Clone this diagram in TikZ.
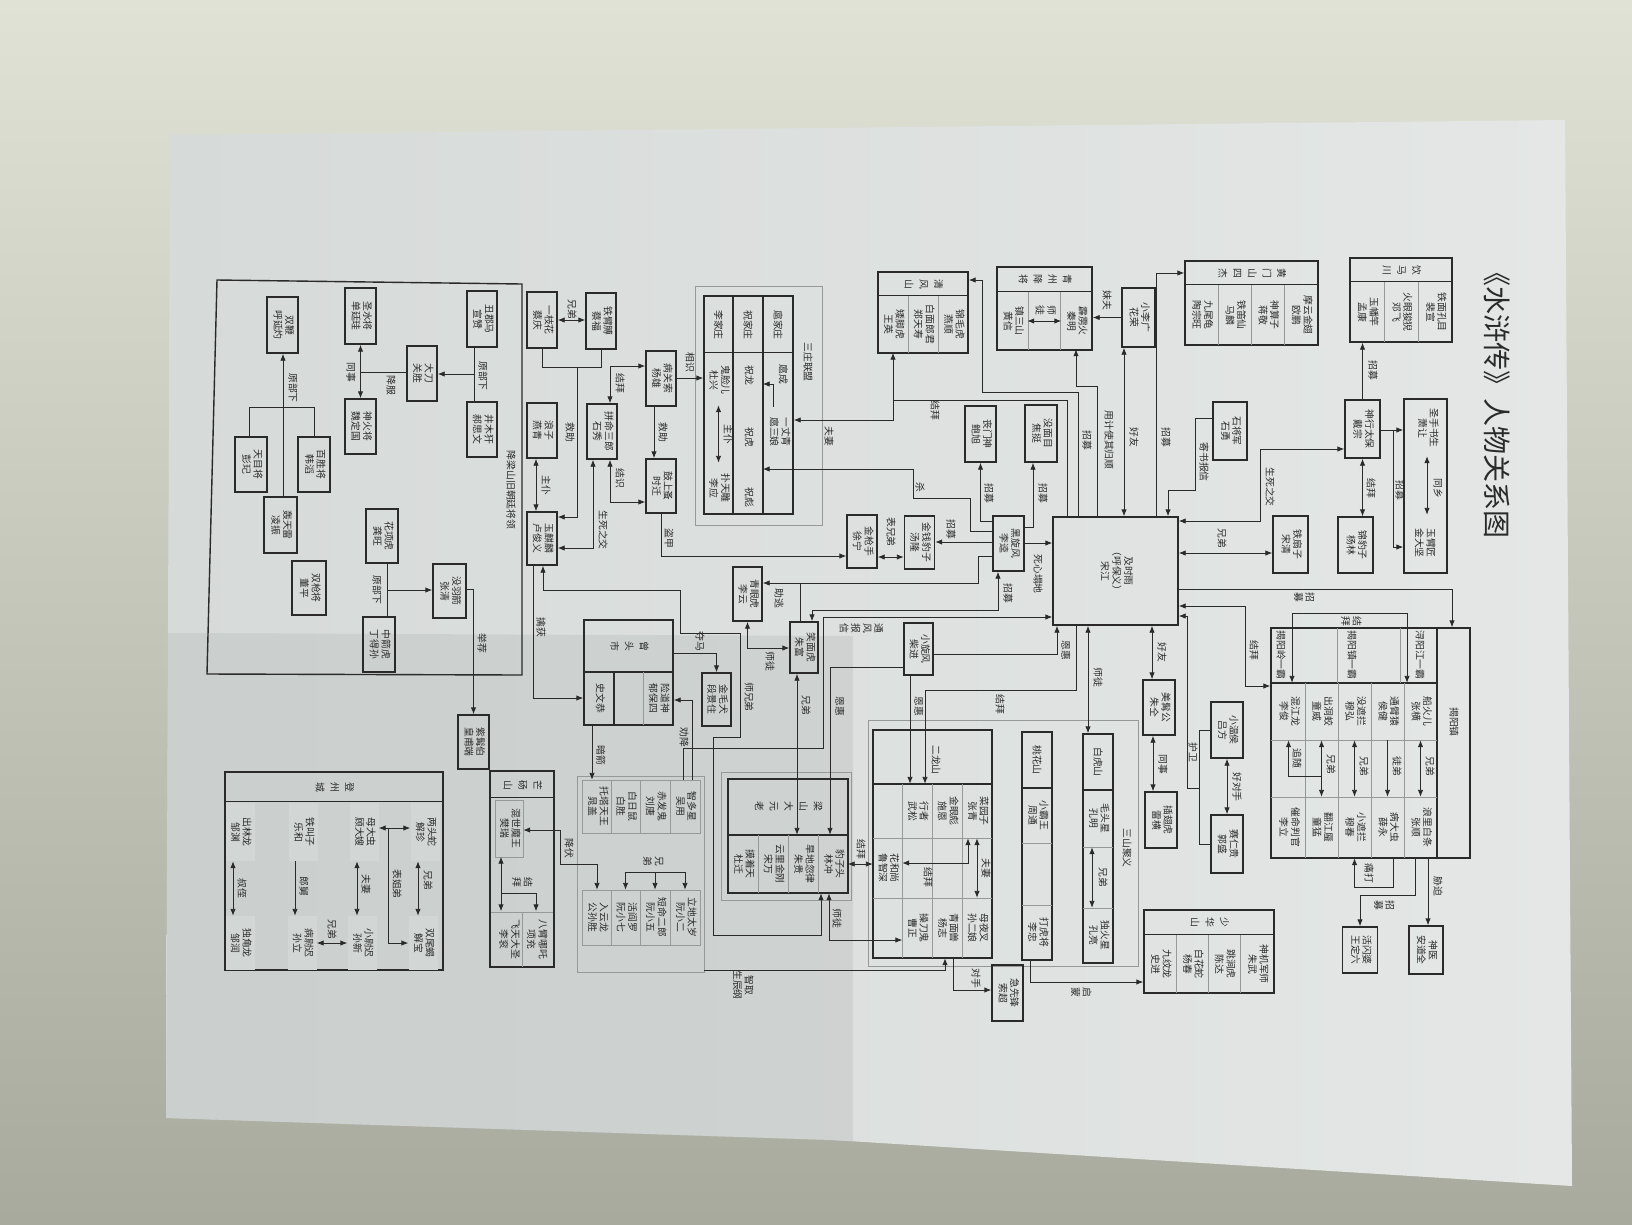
\documentclass[tikz,border=0pt]{standalone}
\usepackage{fontspec}
\setmainfont{Noto Sans CJK SC}
\usepackage{graphicx}
\usetikzlibrary{arrows.meta}
\definecolor{bgtop}{RGB}{224,226,214}
\definecolor{bgbot}{RGB}{168,170,158}
\definecolor{paperl}{RGB}{214,218,216}
\definecolor{paperr}{RGB}{228,231,230}
\definecolor{paperlow}{RGB}{190,195,193}
\definecolor{ink}{RGB}{42,42,42}
\definecolor{thin}{RGB}{150,153,151}
\definecolor{cellfill}{RGB}{210,214,212}
\newcommand{\vt}[1]{\rotatebox{-90}{\begin{tabular}{@{}c@{}}#1\end{tabular}}}
\newcommand{\hd}[1]{\rotatebox{-90}{\renewcommand{\arraystretch}{1.3}\begin{tabular}{@{}c@{}}#1\end{tabular}}}

\begin{document}
\begin{tikzpicture}[x=1pt,y=-1pt]
  \tikzstyle{every node}=[font=\fontsize{9.8}{11.3}\selectfont,text=ink,inner sep=0pt]
  \tikzstyle{box}=[draw=ink,line width=1.4pt,minimum width=31pt,minimum height=55pt]
  \tikzstyle{grp}=[draw=ink,line width=1.4pt]
  \tikzstyle{frm}=[draw=thin,line width=0.9pt]
  \tikzstyle{pcell}=[minimum width=29pt,minimum height=56pt]
  \tikzstyle{dcell}=[pcell,fill=cellfill]
  \tikzstyle{sepline}=[draw=thin,line width=0.5pt]
  \tikzstyle{lab}=[rotate=-90,inner sep=1pt]
  \tikzstyle{ln}=[draw=ink,line width=0.9pt]
  \tikzstyle{arr}=[ln,-{Latex[length=7pt,width=5.5pt]}]
  \tikzstyle{darr}=[ln,{Latex[length=7pt,width=5.5pt]}-{Latex[length=7pt,width=5.5pt]}]

  % photo and sheet
  \useasboundingbox (0,0) rectangle (1632,1224);
  \shade[top color=bgtop,bottom color=bgbot] (0,0) rectangle (1632,1224);
  \shade[left color=paperl,right color=paperr] (170,135) -- (1565,120) -- (1572,1186) -- (832,1140) -- (166,1118) -- cycle;
  \fill[paperlow,opacity=0.45] (168,633) -- (853,636) -- (853,1141) -- (166,1118) -- cycle;

  \node[rotate=-90,font=\fontsize{28}{30}\selectfont] (title) at (1497,398) {《水浒传》人物关系图};

  % Song Jiang
  \node[box,minimum width=125pt,minimum height=108pt] (songjiang) at (1115.5,571) {\vt{及时雨\\（呼保义）\\宋江}};

  % top right
  \node[grp,minimum width=133pt,minimum height=84pt] (hm) at (1251.5,303) {};
  \draw[grp] (hm.north west) ++(0,24) -- ++(133,0);
  \node (hmt) at (1251.5,273) {\hd{黄\\门\\山\\四\\杰}};
  \foreach \x in {1218,1251,1284} \draw[sepline] (\x,285) -- (\x,345);
  \node[pcell] (taozw) at (1201.5,315) {\vt{九尾龟\\陶宗旺}};
  \node[pcell] (malin) at (1234.5,315) {\vt{铁笛仙\\马麟}};
  \node[pcell] (jiangjing) at (1267.5,315) {\vt{神算子\\蒋敬}};
  \node[pcell] (oupeng) at (1301,315) {\vt{摩云金翅\\欧鹏}};

  \node[grp,minimum width=102pt,minimum height=84pt] (ym) at (1401,300) {};
  \draw[grp] (ym.north west) ++(0,24) -- ++(102,0);
  \node (ymt) at (1401,270) {\hd{饮\\马\\川}};
  \foreach \x in {1384,1418} \draw[sepline] (\x,282) -- (\x,342);
  \node[pcell] (mengkang) at (1367,312) {\vt{玉幡竿\\孟康}};
  \node[pcell] (dengfei) at (1401,312) {\vt{火眼狻猊\\邓飞}};
  \node[pcell] (peixuan) at (1435,312) {\vt{铁面孔目\\裴宣}};

  \node[box,minimum width=35pt,minimum height=58pt] (daizong) at (1362.5,429) {\vt{神行太保\\戴宗}};
  \node[box,minimum width=43pt,minimum height=174pt] (xrbox) at (1425.5,486) {};
  \node[pcell] (xiaorang) at (1427,428) {\vt{圣手书生\\萧让}};
  \node[pcell] (jindajian) at (1424,543) {\vt{玉臂匠\\金大坚}};
  \node[box,minimum width=35pt,minimum height=56pt] (yanglin) at (1355.5,545) {\vt{锦豹子\\杨林}};
  \node[box,minimum width=34pt,minimum height=58pt] (shiyong) at (1230,431) {\vt{石将军\\石勇}};
  \node[box,minimum width=35pt,minimum height=57pt] (songqing) at (1290.5,544.5) {\vt{铁扇子\\宋清}};

  \draw[arr] (1156,0 |- songjiang.north) -- (1156,273) -- (hm.west |- 0,273);
  \node[lab] (t1) at (1166,437) {招募};
  \draw[arr] (daizong.north) -- (daizong.north |- ym.south);
  \node[lab] (t2) at (1373,370) {招募};
  \draw[arr] (daizong.east |- 0,430) -- (xrbox.west |- 0,430);
  \draw[arr] (daizong.east |- 0,430) -| (1393,547) -- (xrbox.west |- 0,547);
  \node[lab] (t3) at (1400,490) {招募};
  \draw[darr] (xiaorang.south) -- (xiaorang.south |- jindajian.north);
  \node[lab] (t3b) at (1438,488) {同乡};
  \draw[darr] (daizong.south) -- (daizong.south |- yanglin.north);
  \node[lab] (t4) at (1371,488) {结拜};
  \draw[darr] (daizong.west |- 0,449) -| (1260,521) -- (songjiang.east |- 0,521);
  \node[lab] (t5) at (1270,487) {生死之交};
  \draw[darr] (songqing.west |- 0,553) -- (songjiang.east |- 0,553);
  \node[lab] (t6) at (1222,538) {兄弟};
  \draw[arr] (shiyong.west |- 0,418) -- (1195,418) -- (1195,490) -- (1168,490) -- (1168,0 |- songjiang.north);
  \node[lab] (t7) at (1204,462) {寄书报信};

  % Jieyang
  \node[grp,minimum width=199pt,minimum height=230pt] (jy) at (1370.5,743) {};
  \draw[grp] (1437,628) -- (1437,858);
  \draw[grp] (1271,683) -- (1437,683);
  \draw[sepline] (1271,740) -- (1437,740) (1271,797) -- (1437,797);
  \draw[sepline] (1337,628) -- (1337,683) (1400,628) -- (1400,683);
  \foreach \x in {1305,1338,1371,1404} \draw[sepline] (\x,683) -- (\x,858);
  \node[lab] (jyt) at (1454,722) {揭阳镇};
  \node[lab] (jyl) at (1281,655) {揭阳岭一霸};
  \node[lab] (jyz) at (1352,655) {揭阳镇一霸};
  \node[lab] (xyj) at (1420,655) {浔阳江一霸};
  \node[pcell,minimum width=33pt,minimum height=57pt] (lijun) at (1288.5,711.5) {\vt{混江龙\\李俊}};
  \node[pcell,minimum width=33pt,minimum height=57pt] (tongwei) at (1321.5,711.5) {\vt{出洞蛟\\童威}};
  \node[pcell,minimum width=33pt,minimum height=57pt] (muhong) at (1354.5,711.5) {\vt{没遮拦\\穆弘}};
  \node[pcell,minimum width=33pt,minimum height=57pt] (houjian) at (1387.5,711.5) {\vt{通臂猿\\侯健}};
  \node[pcell,minimum width=33pt,minimum height=57pt] (zhangheng) at (1420.5,711.5) {\vt{船火儿\\张横}};
  \node[pcell,minimum width=33pt,minimum height=61pt] (lili) at (1288.5,827.5) {\vt{催命判官\\李立}};
  \node[pcell,minimum width=33pt,minimum height=61pt] (tongmeng) at (1321.5,827.5) {\vt{翻江蜃\\童猛}};
  \node[pcell,minimum width=33pt,minimum height=61pt] (muchun) at (1354.5,827.5) {\vt{小遮拦\\穆春}};
  \node[pcell,minimum width=33pt,minimum height=61pt] (xueyong) at (1387.5,827.5) {\vt{病大虫\\薛永}};
  \node[pcell,minimum width=33pt,minimum height=61pt] (zhangshun) at (1420.5,827.5) {\vt{浪里白条\\张顺}};
  \draw[arr] (tongwei.south |- 0,776) -| (lijun.south);
  \node[lab] (t13) at (1297,758) {追随};
  \draw[darr] (tongwei.south) -- (tongmeng.north);
  \node[lab] (t14) at (1331,764) {兄弟};
  \draw[darr] (muhong.south) -- (muchun.north);
  \node[lab] (t15) at (1364,766) {兄弟};
  \draw[arr] (houjian.south) -- (xueyong.north);
  \node[lab] (t16) at (1397,766) {徒弟};
  \draw[darr] (zhangheng.south) -- (zhangshun.north);
  \node[lab] (t17) at (1430,766) {兄弟};
  \draw[darr] (1292,0 |- lijun.north) -- (1292,613) -- (1407,613) -- (1407,0 |- zhangheng.north);
  \node (t12) at (1350,621) {\vt{结\\拜}};
  \draw[arr] (songjiang.east |- 0,589) -- (1452,589) -- (1452,0 |- jy.north);
  \node (t8) at (1303,597) {\vt{招\\募}};
  \draw[darr] (songjiang.east |- 0,606) -- (1245,606) |- (jy.west |- 0,686);
  \node[lab] (t9) at (1254,650) {结拜};

  \node[box,minimum width=32pt,minimum height=56pt] (lvfang) at (1227,730) {\vt{小温侯\\吕方}};
  \node[box,minimum width=32pt,minimum height=58pt] (guosheng) at (1227,844) {\vt{赛仁贵\\郭盛}};
  \coordinate (hw) at (1199,788);
  \draw[ln] (lvfang.west) -| (hw) |- (guosheng.west);
  \draw[arr] (hw) -- (1187,788) -- (1187,616) -- (songjiang.east |- 0,616);
  \node[lab] (t10) at (1193,752) {护卫};
  \draw[darr] (lvfang.south) -- (guosheng.north);
  \node[lab] (t11) at (1237,787) {好对手};

  \node[box,minimum width=35pt,minimum height=46pt] (wangdingliu) at (1360,950) {\vt{活闪婆\\王定六}};
  \node[box,minimum width=34pt,minimum height=48pt] (andaoquan) at (1426,950) {\vt{神医\\安道全}};
  \draw[arr] (1393,0 |- xueyong.south) -- (1393,887) -| (muchun.south);
  \node[lab] (t18) at (1369,873) {痛打};
  \draw[arr] (1415,0 |- zhangshun.south) -- (1415,895) -| (wangdingliu.north);
  \node (t19) at (1383,905) {\vt{招\\募}};
  \draw[arr] (1428,0 |- zhangshun.south) -- (1428,0 |- andaoquan.north);
  \node[lab] (t20) at (1438,886) {胁迫};

  % Qingfeng shan, Qingzhou
  \node[grp,minimum width=90pt,minimum height=81pt] (qf) at (923,312.5) {};
  \draw[grp] (qf.north west) ++(0,24) -- ++(90,0);
  \node (qft) at (923,284) {\hd{清\\风\\山}};
  \foreach \x in {908,938} \draw[sepline] (\x,296) -- (\x,353);
  \node[pcell] (wangying) at (893,324.5) {\vt{矮脚虎\\王英}};
  \node[pcell] (zhengts) at (923,324.5) {\vt{白面郎君\\郑天寿}};
  \node[pcell] (yanshun) at (953,324.5) {\vt{锦毛虎\\燕顺}};

  \node[grp,minimum width=95pt,minimum height=83pt] (qz) at (1044.5,308.5) {};
  \draw[grp] (qz.north west) ++(0,25) -- ++(95,0);
  \node (qzt) at (1044.5,279.5) {\hd{青\\州\\降\\将}};
  \foreach \x in {1028,1060} \draw[sepline] (\x,292) -- (\x,350);
  \node[pcell] (huangxin) at (1012.5,321) {\vt{镇三山\\黄信}};
  \node[pcell] (qinming) at (1076,321) {\vt{霹雳火\\秦明}};
  \draw[darr] (huangxin.east) -- (qinming.west);
  \node (t25) at (1044.5,310) {\vt{师\\徒}};

  \node[box,minimum width=33pt,minimum height=59pt] (huarong) at (1138.5,317.5) {\vt{小李广\\花荣}};
  \draw[arr] (huarong.west) -- (huarong.west -| qz.east);
  \node[lab] (t26) at (1107,300) {妹夫};
  \draw[darr] (1124,0 |- huarong.south) -- (1124,0 |- songjiang.north);
  \node[lab] (t27) at (1134,437) {好友};
  \draw[ln] (1067,0 |- songjiang.north) -- (1067,400) -- (wangying.south |- 0,400);
  \node[lab] (t22) at (935,410) {结拜};
  \draw[arr] (1078,0 |- songjiang.north) -- (1078,392) -- (982,392) -- (982,280) -- (qf.east |- 0,280);
  \node[lab] (t23) at (1087,440) {招募};
  \draw[arr] (1097,0 |- songjiang.north) -- (1097,386) -| (qinming.south);
  \node[lab] (t24) at (1109,440) {用计使其归顺};

  % Li Kui and friends
  \node[box,minimum width=31pt,minimum height=56pt] (baoxu) at (980.5,434) {\vt{丧门神\\鲍旭}};
  \node[box,minimum width=32pt,minimum height=57pt] (jiaoting) at (1041,433.5) {\vt{没面目\\焦挺}};
  \node[box,minimum width=31pt,minimum height=55pt] (likui) at (1008.5,543.5) {\vt{黑旋风\\李逵}};
  \node[box,minimum width=30pt,minimum height=53pt] (tanglong) at (919.5,542.5) {\vt{金钱豹子\\汤隆}};
  \node[box,minimum width=30pt,minimum height=53pt] (xuning) at (862,541.5) {\vt{金枪手\\徐宁}};
  \draw[arr] (likui.west |- 0,521) -| (baoxu.south);
  \node[lab] (t28) at (989,493) {招募};
  \draw[arr] (likui.east |- 0,527) -- (1033,527) -- (1033,0 |- jiaoting.south);
  \node[lab] (t29) at (1043,493) {招募};
  \draw[arr] (likui.west |- 0,542) -- (tanglong.east |- 0,542);
  \node[lab] (t30) at (951,529) {招募};
  \draw[darr] (xuning.east |- 0,557) -- (tanglong.west |- 0,557);
  \node[lab] (t31) at (891,532) {表兄弟};
  \draw[arr] (likui.east |- 0,543) -- (songjiang.west |- 0,543);
  \node[lab] (t32) at (1038,574) {死心塌地};

  \node[box,minimum width=29pt,minimum height=54pt] (liyun) at (747.5,594) {\vt{青眼虎\\李云}};
  \node[box,minimum width=28pt,minimum height=51pt] (zhufu) at (804,647.5) {\vt{笑面虎\\朱富}};
  \coordinate (zt) at (800,583);
  \draw[arr] (likui.west |- 0,556) -- (978,556) -- (978,583) -- (liyun.east |- zt);
  \draw[ln] (zt) -- (zt |- zhufu.north);
  \node[lab] (t33) at (779,598) {助逃};
  \draw[darr] (998,0 |- likui.south) -- (998,610) -- (812,610) -- (812,0 |- zhufu.north);
  \node[lab] (t34) at (1008,593) {招募};
  \draw[darr] (liyun.south) |- (zhufu.west |- 0,648);
  \node[lab] (t35) at (770,661) {师徒};

  % San zhuang
  \draw[frm] (695,286) rectangle (822,525);
  \node[grp,minimum width=89pt,minimum height=218pt] (sz) at (748.5,405) {};
  \draw[grp] (sz.north west) ++(0,57) -- ++(89,0);
  \draw[grp] (733,296) -- (733,514) (763,296) -- (763,514);
  \node[lab] (szt) at (808,362) {三庄联盟};
  \node[lab] (lijz) at (718.5,325) {李家庄};
  \node[lab] (zhujz) at (748,325) {祝家庄};
  \node[lab] (hujz) at (778,325) {扈家庄};
  \node[pcell,minimum height=50pt] (duxing) at (718.5,380) {\vt{鬼脸儿\\杜兴}};
  \node[pcell,minimum height=50pt] (liying) at (718.5,488) {\vt{扑天雕\\李应}};
  \draw[darr] (duxing.south) -- (liying.north);
  \node[lab] (t39) at (728,434) {主仆};
  \node[pcell,minimum height=20pt] (zhulong) at (748,375) {\vt{祝龙}};
  \node[pcell,minimum height=20pt] (zhuhu) at (748,437) {\vt{祝虎}};
  \node[pcell,minimum height=20pt] (zhubiao) at (748,497) {\vt{祝彪}};
  \node[pcell,minimum height=30pt] (hucheng) at (782,374) {\vt{扈成}};
  \node[pcell,minimum height=50pt] (hu3niang) at (779,432) {\vt{一丈青\\扈三娘}};
  \draw[arr] (773,0 |- hu3niang.north) |- (zhulong.east |- 0,384);
  \draw[darr] (wangying.south) |- (hu3niang.east |- 0,420);
  \node[lab] (t21) at (829,436) {夫妻};
  \draw[arr] (likui.west |- 0,531) -- (970,531) -- (970,498) -- (913,498) -- (913,469) -- (zhuhu.east |- 0,469);
  \node[lab] (t21b) at (920,487) {杀};

  % Lu Junyi side
  \node[box,minimum width=30pt,minimum height=56pt] (caiqing) at (542,320) {\vt{一枝花\\蔡庆}};
  \node[box,minimum width=30pt,minimum height=56pt] (caifu) at (601,321) {\vt{铁臂膊\\蔡福}};
  \node[box,minimum width=30pt,minimum height=55pt] (yangxiong) at (661,378.5) {\vt{病关索\\杨雄}};
  \node[box,minimum width=30pt,minimum height=55pt] (shixiu) at (602,431.5) {\vt{拼命三郎\\石秀}};
  \node[box,minimum width=30pt,minimum height=55pt] (yanqing) at (542,430.5) {\vt{浪子\\燕青}};
  \node[box,minimum width=30pt,minimum height=54pt] (shiqian) at (661,486) {\vt{鼓上蚤\\时迁}};
  \node[box,minimum width=30pt,minimum height=53pt] (lujunyi) at (542,538.5) {\vt{玉麒麟\\卢俊义}};
  \draw[darr] (caiqing.east) -- (caiqing.east -| caifu.west);
  \node[lab] (t40) at (572,309) {兄弟};
  \draw[ln] (caiqing.south) |- (caifu.south |- 0,367) -- (caifu.south);
  \coordinate (cj) at (577,367);
  \draw[arr] (cj) |- (lujunyi.east |- 0,517);
  \node[lab] (t41) at (570,432) {救助};
  \draw[darr] (yangxiong.west |- 0,366) -| (610,0 |- shixiu.north);
  \node[lab] (t42) at (620,383) {结拜};
  \draw[arr] (yangxiong.east |- 0,378) -- (sz.west |- 0,378);
  \node[lab] (t42b) at (690,362) {相识};
  \draw[arr] (654,0 |- yangxiong.south) -- (654,0 |- shiqian.north);
  \node[lab] (t43) at (663,432) {救助};
  \draw[darr] (610,0 |- shixiu.south) |- (shiqian.west |- 0,502);
  \node[lab] (t44) at (620,478) {结识};
  \draw[darr] (536,0 |- yanqing.south) -- (536,0 |- lujunyi.north);
  \node[lab] (t45) at (546,485) {主仆};
  \draw[darr] (593,0 |- shixiu.south) |- (lujunyi.east |- 0,548);
  \node[lab] (t46) at (603,530) {生死之交};
  \draw[arr] (shiqian.south) |- (xuning.west |- 0,556);
  \node[lab] (t37) at (669,538) {盗甲};

  % former imperial generals
  \draw[grp] (217,280) -- (522,284) -- (522,675) -- (207,674) -- cycle;
  \node[lab] (jlt) at (511,490) {降梁山旧朝廷将领};
  \node[box,minimum width=31pt,minimum height=56pt] (huyanzhuo) at (282.5,325) {\vt{双鞭\\呼延灼}};
  \node[box,minimum width=31pt,minimum height=56pt] (shantinggui) at (360.5,316) {\vt{圣水将\\单廷珪}};
  \node[box,minimum width=31pt,minimum height=55pt] (weidingguo) at (360.5,426.5) {\vt{神火将\\魏定国}};
  \node[box,minimum width=30pt,minimum height=55pt] (guansheng) at (422,373.5) {\vt{大刀\\关胜}};
  \node[box,minimum width=30pt,minimum height=56pt] (xuanzan) at (482,319) {\vt{丑郡马\\宣赞}};
  \node[box,minimum width=30pt,minimum height=55pt] (haosiwen) at (482,429.5) {\vt{井木犴\\郝思文}};
  \node[box,minimum width=32pt,minimum height=55pt] (pengqi) at (251,464.5) {\vt{天目将\\彭玘}};
  \node[box,minimum width=32pt,minimum height=55pt] (hantao) at (314,464.5) {\vt{百胜将\\韩滔}};
  \node[box,minimum width=33pt,minimum height=56pt] (lingzhen) at (280.5,525) {\vt{轰天雷\\凌振}};
  \node[box,minimum width=34pt,minimum height=54pt] (dongping) at (309,588) {\vt{双枪将\\董平}};
  \node[box,minimum width=32pt,minimum height=54pt] (gongwang) at (382,536) {\vt{花项虎\\龚旺}};
  \node[box,minimum width=33pt,minimum height=54pt] (zhangqing) at (449.5,591) {\vt{没羽箭\\张清}};
  \node[box,minimum width=32pt,minimum height=55pt] (dingdesun) at (379,644.5) {\vt{中箭虎\\丁得孙}};
  \node[box,minimum width=31pt,minimum height=54pt] (huangfuduan) at (473.5,742) {\vt{紫髯伯\\皇甫端}};
  \draw[ln] (474,0 |- xuanzan.south) -- (474,0 |- haosiwen.north);
  \coordinate (yb) at (474,374);
  \draw[arr] (yb) -- (guansheng.east |- yb);
  \node[lab] (t47) at (483,376) {原部下};
  \draw[darr] (shantinggui.south) -- (shantinggui.south |- weidingguo.north);
  \draw[ln] (guansheng.west |- 0,372) -- (shantinggui.south |- 0,372);
  \node[lab] (t48) at (351,372) {同事};
  \node[lab] (t49) at (391,385) {降服};
  \draw[ln] (249,0 |- pengqi.north) |- (314,407) -- (314,0 |- hantao.north);
  \draw[arr] (283,0 |- lingzhen.north) -- (283,0 |- huyanzhuo.south);
  \node[lab] (t50) at (293,388) {原部下};
  \draw[ln] (387,0 |- gongwang.south) -- (387,0 |- dingdesun.north);
  \draw[arr] (387,590) -- (zhangqing.west |- 0,590);
  \node[lab] (t51) at (377,590) {原部下};
  \draw[arr] (zhangqing.east |- 0,589) -| (huangfuduan.north);
  \node[lab] (t52) at (482,643) {举荐};

  % Zengtou shi
  \node[grp,minimum width=89pt,minimum height=105pt] (zts) at (628.5,672.5) {};
  \draw[grp] (zts.west |- 0,672) -- (zts.east |- 0,672);
  \draw[grp] (614,672) -- (614,725);
  \draw[sepline] (643,672) -- (643,725);
  \node (ztst) at (628.5,646) {\hd{曾\\头\\市}};
  \node[pcell,minimum height=50pt] (shiwengong) at (599,698.5) {\vt{史文恭}};
  \node[pcell,minimum height=50pt] (yubaosi) at (658,698.5) {\vt{险道神\\郁保四}};
  \node[box,minimum width=29pt,minimum height=53pt] (duanjingzhu) at (716.5,699.5) {\vt{金毛犬\\段景住}};
  \draw[arr] (zts.east |- 0,653) -| (duanjingzhu.north);
  \node[lab] (t53) at (700,641) {夺马};

  % Chao Gai group
  \node[frm,minimum width=127pt,minimum height=196pt] (wy) at (640.5,874) {};
  \draw[sepline] (582,780) rectangle (700,833) (582,890) rectangle (700,945);
  \foreach \x in {611,640,670} \draw[sepline] (\x,780) -- (\x,833) (\x,890) -- (\x,945);
  \node[pcell,minimum height=53pt] (chaogai) at (597,806.5) {\vt{托塔天王\\晁盖}};
  \node[pcell,minimum height=53pt] (baisheng) at (625.5,806.5) {\vt{白日鼠\\白胜}};
  \node[pcell,minimum height=53pt] (liutang) at (655,806.5) {\vt{赤发鬼\\刘唐}};
  \node[pcell,minimum height=53pt] (wuyong) at (685,806.5) {\vt{智多星\\吴用}};
  \node[pcell,minimum height=55pt] (gongsun) at (597,917.5) {\vt{入云龙\\公孙胜}};
  \node[pcell,minimum height=55pt] (ruan7) at (625.5,917.5) {\vt{活阎罗\\阮小七}};
  \node[pcell,minimum height=55pt] (ruan5) at (655,917.5) {\vt{短命二郎\\阮小五}};
  \node[pcell,minimum height=55pt] (ruan2) at (685,917.5) {\vt{立地太岁\\阮小二}};
  \draw[ln] (ruan7.north |- 0,872) -- (ruan2.north |- 0,872);
  \foreach \n in {ruan7,ruan5,ruan2} \draw[arr] (\n.north |- 0,872) -- (\n.north);
  \node (t54) at (652,861) {\vt{兄\\弟}};
  \draw[arr] (692,0 |- wuyong.north) |- (zts.east |- 0,700);
  \node[lab] (t54b) at (684,737) {劝降};
  \draw[arr] (592,0 |- zts.south) -- (592,0 |- chaogai.north);
  \node[lab] (t55) at (601,755) {暗箭};
  \draw[arr] (533,0 |- lujunyi.south) |- (zts.west |- 0,698);
  \node[lab] (t56) at (541,627) {擒获};
  \draw[arr] (683,0 |- wuyong.north) -- (683,748) -- (823,748) -- (823,617) -- (songjiang.west |- 0,617);
  \node (t38) at (860,628) {\vt{通\\风\\报\\信}};

  % Mangdang shan
  \node[grp,minimum width=64pt,minimum height=196pt] (md) at (522,869) {};
  \draw[grp] (md.north west) ++(0,27) -- ++(64,0);
  \node (mdt) at (522,785) {\hd{芒\\砀\\山}};
  \draw[sepline] (495,800) rectangle (523,857);
  \draw[sepline] (491,912) -- (553,912) (522,912) -- (522,967);
  \node[pcell,minimum width=28pt] (fanrui) at (509,828.5) {\vt{混世魔王\\樊瑞}};
  \node[pcell,minimum width=27pt] (ligun) at (508.5,939.5) {\vt{飞天大圣\\李衮}};
  \node[pcell,minimum width=27pt] (xiangchong) at (536,939.5) {\vt{八臂哪吒\\项充}};
  \draw[darr] (501,0 |- fanrui.south) -- (501,0 |- ligun.north);
  \coordinate (mdj) at (501,893);
  \draw[arr] (mdj) -| (xiangchong.north);
  \node (t60) at (521,882) {\vt{结\\拜}};
  \draw[darr] (fanrui.east |- 0,830) -- (560,830) -- (560,864) -| (gongsun.north);
  \node[lab] (t59) at (569,848) {降伏};

  % Liangshan elders
  \draw[frm] (721,772) rectangle (851,900);
  \node[grp,minimum width=120pt,minimum height=114pt] (ls) at (788,836) {};
  \draw[grp] (ls.west |- 0,835) -- (ls.east |- 0,835);
  \node (lst) at (788,806) {\hd{梁\\山\\大\\元\\老}};
  \foreach \x in {758,788,818} \draw[sepline] (\x,835) -- (\x,893);
  \node[pcell,minimum height=58pt] (dujian) at (743,864) {\vt{摸着天\\杜迁}};
  \node[pcell,minimum height=58pt] (songwan) at (773,864) {\vt{云里金刚\\宋万}};
  \node[pcell,minimum height=58pt] (zhugui) at (803,864) {\vt{旱地忽律\\朱贵}};
  \node[pcell,minimum height=58pt] (linchong) at (833,864) {\vt{豹子头\\林冲}};
  \draw[darr] (797,0 |- zhufu.south) -- (797,0 |- zhugui.north);
  \node[lab] (t36) at (806,705) {兄弟};
  \draw[darr] (543,0 |- lujunyi.south) -- (543,590) -- (680,590) -- (680,633) -- (740,633) -- (740,737) -- (713,737) -- (713,935) -- (821,935) -- (821,0 |- linchong.south);
  \node[lab] (t57) at (749,697) {师兄弟};

  % Er long shan and the three hills
  \node[frm,minimum width=270pt,minimum height=246pt] (ss) at (1003,843) {};
  \node[lab] (sst) at (1127,848) {三山聚义};
  \node[grp,minimum width=119pt,minimum height=228pt] (el) at (932.5,844) {};
  \draw[grp] (el.west |- 0,784) -- (el.east |- 0,784);
  \draw[sepline] (873,838) -- (992,838) (873,898) -- (992,898);
  \foreach \x in {902,932,962} \draw[sepline] (\x,784) -- (\x,958);
  \node[lab] (elt) at (936,760) {二龙山};
  \node[pcell,minimum height=54pt] (wusong) at (917,811) {\vt{行者\\武松}};
  \node[pcell,minimum height=54pt] (shien) at (947,811) {\vt{金眼彪\\施恩}};
  \node[pcell,minimum height=54pt] (zhangqing2) at (977,811) {\vt{菜园子\\张青}};
  \node[pcell,minimum height=60pt] (luzhishen) at (887.5,868) {\vt{花和尚\\鲁智深}};
  \node[pcell,minimum height=60pt] (caozheng) at (917,928) {\vt{操刀鬼\\曹正}};
  \node[pcell,minimum height=60pt] (yangzhi) at (947,928) {\vt{青面兽\\杨志}};
  \node[pcell,minimum height=60pt] (sun2niang) at (977,928) {\vt{母夜叉\\孙二娘}};
  \draw[darr] (968,0 |- zhangqing2.south) |- (luzhishen.east |- 0,863);
  \node[lab] (t66) at (928,877) {结拜};
  \draw[darr] (zhangqing2.south) -- (sun2niang.north);
  \node[lab] (t67) at (986,868) {夫妻};
  \draw[darr] (linchong.east) -- (linchong.east -| luzhishen.west);
  \node[lab] (t68) at (861,849) {结拜};
  \draw[darr] (829,0 |- linchong.south) |- (caozheng.west |- 0,940);
  \node[lab] (t69) at (837,918) {师徒};

  \node[box,minimum width=29pt,minimum height=52pt] (chaijin) at (918.5,649) {\vt{小旋风\\柴进}};
  \draw[arr] (chaijin.west |- 0,667) -- (830,667) -- (830,0 |- linchong.north);
  \node[lab] (t62) at (840,706) {恩惠};
  \draw[arr] (910,0 |- chaijin.south) -- (910,0 |- wusong.north);
  \node[lab] (t63) at (919,706) {恩惠};
  \draw[arr] (chaijin.east |- 0,654) -- (1057,654) -- (1057,0 |- songjiang.south);
  \node[lab] (t64) at (1066,650) {恩惠};
  \draw[arr] (1076,0 |- songjiang.south) -- (1076,690) -| (925,0 |- wusong.north);
  \node[lab] (t70) at (1000,704) {结拜};

  \node[grp,minimum width=30pt,minimum height=228pt] (th) at (1037,846) {};
  \draw[grp] (th.west |- 0,788) -- (th.east |- 0,788);
  \draw[sepline] (1022,843) -- (1052,843) (1022,905) -- (1052,905);
  \node[lab] (tht) at (1037,760) {桃花山};
  \node[pcell,minimum height=55pt] (zhoutong) at (1037,815.5) {\vt{小霸王\\周通}};
  \node[pcell,minimum height=55pt] (lizhong) at (1037,932.5) {\vt{打虎将\\李忠}};

  \node[grp,minimum width=30pt,minimum height=229pt] (bh) at (1098,848.5) {};
  \draw[grp] (bh.west |- 0,790) -- (bh.east |- 0,790);
  \draw[sepline] (1083,847) -- (1113,847) (1083,908) -- (1113,908);
  \node[lab] (bht) at (1098,762) {白虎山};
  \node[pcell,minimum height=57pt] (kongming) at (1098,818.5) {\vt{毛头星\\孔明}};
  \node[pcell,minimum height=55pt] (kongliang) at (1098,935.5) {\vt{独火星\\孔亮}};
  \draw[darr] (1092,0 |- kongming.south) -- (1092,0 |- kongliang.north);
  \node[lab] (t72) at (1103,877) {兄弟};
  \draw[darr] (1088,0 |- songjiang.south) -- (1088,0 |- bh.north);
  \node[lab] (t71) at (1098,677) {师徒};

  \node[box,minimum width=32pt,minimum height=55pt] (zhutong) at (1159,707.5) {\vt{美髯公\\朱仝}};
  \node[box,minimum width=32pt,minimum height=56pt] (leiheng) at (1161,820) {\vt{插翅虎\\雷横}};
  \draw[darr] (1152,0 |- songjiang.south) -- (1152,0 |- zhutong.north);
  \node[lab] (t74) at (1162,652) {好友};
  \draw[darr] (1153,0 |- zhutong.south) -- (1153,0 |- leiheng.north);
  \node[lab] (t75) at (1163,764) {同事};

  \node[box,minimum width=31pt,minimum height=56pt] (suochao) at (1007.5,993) {\vt{急先锋\\索超}};
  \draw[arr] (wy.east |- 0,970) -- (945,970) -- (945,0 |- yangzhi.south);
  \node (t61) at (742,985) {\vt{智取\\生辰纲}};
  \draw[arr] (953,0 |- yangzhi.south) -- (953,990) -- (suochao.west |- 0,990);
  \node[lab] (t65) at (976,978) {对手};

  % Shaohua shan
  \node[grp,minimum width=130pt,minimum height=83pt] (shh) at (1209,951.5) {};
  \draw[grp] (shh.north west) ++(0,25) -- ++(130,0);
  \node (shht) at (1209,922.5) {\hd{少\\华\\山}};
  \foreach \x in {1176,1208,1240} \draw[sepline] (\x,935) -- (\x,993);
  \node[pcell] (shijin) at (1160,964) {\vt{九纹龙\\史进}};
  \node[pcell] (yangchun) at (1192,964) {\vt{白花蛇\\杨春}};
  \node[pcell] (chenda) at (1224,964) {\vt{跳涧虎\\陈达}};
  \node[pcell] (zhuwu) at (1257,964) {\vt{神机军师\\朱武}};
  \draw[arr] (1030,0 |- th.south) |- (shh.west |- 0,982);
  \node (t73) at (1080,992) {\vt{启\\蒙}};

  % Dengzhou
  \node[grp,minimum width=218pt,minimum height=198pt] (dz) at (334,871) {};
  \draw[grp] (dz.north west) ++(0,30) -- ++(218,0);
  \node (dzt) at (334,787) {\hd{登\\州\\城}};
  \node[dcell,minimum height=58pt] (zouyuan) at (240,832) {\vt{出林龙\\邹渊}};
  \node[dcell,minimum height=58pt] (lehe) at (303,832) {\vt{铁叫子\\乐和}};
  \node[dcell,minimum height=58pt] (gudasao) at (364,832) {\vt{母大虫\\顾大嫂}};
  \node[dcell,minimum height=58pt] (jiezhen) at (425,832) {\vt{两头蛇\\解珍}};
  \node[dcell,minimum height=54pt] (zourun) at (240,943) {\vt{独角龙\\邹润}};
  \node[dcell,minimum height=54pt] (sunli) at (302,943) {\vt{病尉迟\\孙立}};
  \node[dcell,minimum height=54pt] (sunxin) at (362,943) {\vt{小尉迟\\孙新}};
  \node[dcell,minimum height=54pt] (jiebao) at (423,943) {\vt{双尾蝎\\解宝}};
  \draw[darr] (233,0 |- zouyuan.south) -- (233,0 |- zourun.north);
  \node[lab] (t76) at (242,888) {叔侄};
  \draw[arr] (295,0 |- lehe.south) -- (295,0 |- sunli.north);
  \node[lab] (t77) at (304,886) {郎舅};
  \draw[darr] (357,0 |- gudasao.south) -- (357,0 |- sunxin.north);
  \node[lab] (t78) at (366,884) {夫妻};
  \draw[darr] (418,0 |- jiezhen.south) -- (418,0 |- jiebao.north);
  \node[lab] (t79) at (428,880) {兄弟};
  \draw[darr] (gudasao.east |- 0,828) -- (jiezhen.west |- 0,828);
  \coordinate (bj) at (388,828);
  \draw[arr] (bj) |- (jiebao.west |- 0,943);
  \node[lab] (t80) at (397,884) {表姐弟};
  \draw[darr] (sunli.east) -- (sunli.east -| sunxin.west);
  \node[lab] (t81) at (332,929) {兄弟};
\end{tikzpicture}
\end{document}
